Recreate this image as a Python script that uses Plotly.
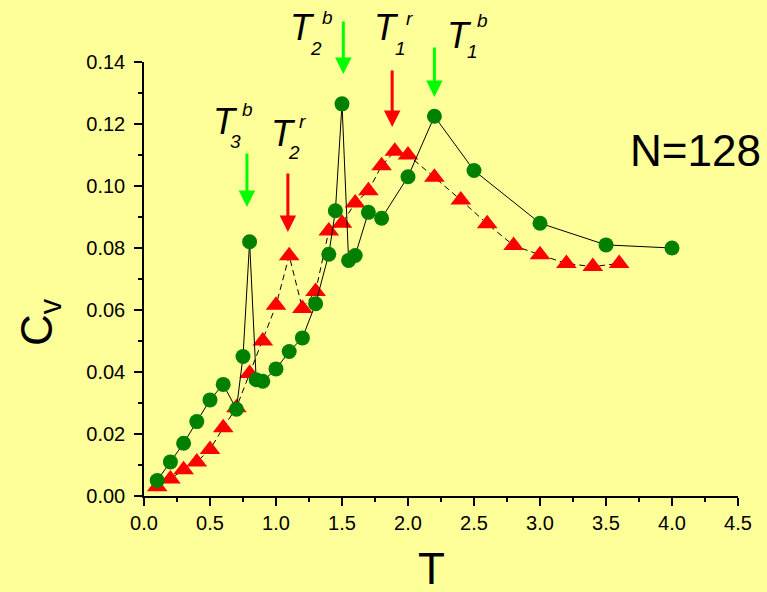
import plotly.graph_objects as go

# ---- data ----
T_green = [0.1, 0.2, 0.3, 0.4, 0.5, 0.6, 0.7, 0.75, 0.8, 0.85, 0.9, 1.0, 1.1, 1.2, 1.3, 1.4,
           1.45, 1.5, 1.55, 1.6, 1.7, 1.8, 2.0, 2.2, 2.5, 3.0, 3.5, 4.0]
Cv_green = [0.005, 0.011, 0.017, 0.024, 0.031, 0.036, 0.028, 0.045, 0.082, 0.0375, 0.037, 0.041,
            0.0466, 0.051, 0.062, 0.078, 0.092, 0.1265, 0.076, 0.0776, 0.0915, 0.0896, 0.103,
            0.1225, 0.105, 0.088, 0.081, 0.080]

T_red = [0.1, 0.2, 0.3, 0.4, 0.5, 0.6, 0.7, 0.8, 0.9, 1.0, 1.1, 1.2, 1.3, 1.4, 1.5, 1.6, 1.7,
         1.8, 1.9, 2.0, 2.2, 2.4, 2.6, 2.8, 3.0, 3.2, 3.4, 3.6]
Cv_red = [0.003, 0.0055, 0.0085, 0.011, 0.015, 0.022, 0.0285, 0.0395, 0.050, 0.0615, 0.0775,
          0.0605, 0.066, 0.0855, 0.088, 0.0945, 0.0985, 0.1065, 0.1112, 0.1100, 0.1028, 0.0955,
          0.0878, 0.0808, 0.0778, 0.0750, 0.0740, 0.0750]

# arrows: (T, Cv of tip, color)
arrow_T = [0.78, 1.09, 1.51, 1.88, 2.20]
arrow_Cv = [0.0932, 0.0852, 0.1361, 0.119, 0.1287]
arrow_len = [-55, -60, -54, -58, -51]
arrow_col = ["#00FF00", "#FF0000", "#00FF00", "#FF0000", "#00FF00"]

# transition labels: sub, sup, and pixel centers of T, sub, sup
lab_sub = ["3", "2", "2", "1", "1"]
lab_sup = ["b", "r", "b", "r", "b"]
lab_T_px = [(225, 121), (283, 132), (302, 26), (386, 26), (459, 35)]
lab_sub_px = [(235, 140), (294, 151), (316, 47), (400, 48), (472, 51)]
lab_sup_px = [(247, 109), (302, 121), (327, 16), (409, 17), (482, 19)]

W, H = 767, 592
L, R, TOP, B = 144, 738, 62, 496
FONT = "Liberation Sans, Arial, sans-serif"
BG = "#FFFF99"


def px2paper(px, py):
    return (px - L) / (R - L), (B - py) / (B - TOP)


fig = go.Figure()
fig.add_trace(go.Scatter(
    x=T_red, y=Cv_red, mode="lines+markers",
    line=dict(color="black", width=1, dash="6px,4px"),
    marker=dict(symbol="triangle-up", size=18, color="#FF0000", line=dict(width=0)),
    cliponaxis=False, showlegend=False))
fig.add_trace(go.Scatter(
    x=T_green, y=Cv_green, mode="lines+markers",
    line=dict(color="black", width=1),
    marker=dict(symbol="circle", size=15, color="#008000", line=dict(width=0)),
    cliponaxis=False, showlegend=False))

ann = []
for x, y, l, c in zip(arrow_T, arrow_Cv, arrow_len, arrow_col):
    ann.append(dict(x=x, y=y, xref="x", yref="y", text="", showarrow=True,
                    ax=0, ay=l, arrowcolor=c, arrowwidth=3, arrowhead=2, arrowsize=1.1,
                    standoff=0, startstandoff=0))

for i in range(len(lab_sub)):
    for txt, (px, py), size in [("<i>T</i>", lab_T_px[i], 36),
                                 ("<i>%s</i>" % lab_sub[i], lab_sub_px[i], 19),
                                 ("<i>%s</i>" % lab_sup[i], lab_sup_px[i], 19)]:
        xp, yp = px2paper(px, py + 1)
        ann.append(dict(x=xp, y=yp, xref="paper", yref="paper", text=txt, showarrow=False,
                        xanchor="center", yanchor="middle",
                        font=dict(family=FONT, size=size, color="black")))

xp, yp = px2paper(695, 150)
ann.append(dict(x=xp, y=yp, xref="paper", yref="paper", text="N=128", showarrow=False,
                xanchor="center", yanchor="middle",
                font=dict(family=FONT, size=44, color="black")))
xp, yp = px2paper(431, 568)
ann.append(dict(x=xp, y=yp, xref="paper", yref="paper", text="T", showarrow=False,
                xanchor="center", yanchor="middle",
                font=dict(family=FONT, size=44, color="black")))
xp, yp = px2paper(40, 322)
ann.append(dict(x=xp, y=yp, xref="paper", yref="paper", text="C<sub>v</sub>", showarrow=False,
                xanchor="center", yanchor="middle", textangle=-90,
                font=dict(family=FONT, size=44, color="black")))

axis_common = dict(showgrid=False, zeroline=False, showline=True, linecolor="black",
                   linewidth=1.5, ticks="outside", ticklen=8, tickwidth=1.5, tickcolor="black",
                   mirror=False, tickfont=dict(family=FONT, size=20, color="black"))

fig.update_layout(
    width=W, height=H,
    margin=dict(l=L, r=W - R, t=TOP, b=H - B),
    paper_bgcolor=BG, plot_bgcolor=BG,
    xaxis=dict(range=[0, 4.5], dtick=0.5, tick0=0, tickformat=".1f",
               minor=dict(dtick=0.25, ticks="outside", ticklen=4, tickwidth=1.5,
                          tickcolor="black"),
               **axis_common),
    yaxis=dict(range=[0, 0.14], dtick=0.02, tick0=0, tickformat=".2f",
               ticklabelstandoff=5,
               minor=dict(dtick=0.01, ticks="outside", ticklen=4, tickwidth=1.5,
                          tickcolor="black"),
               **axis_common),
    annotations=ann,
    showlegend=False,
)

fig.write_html("out.html")
